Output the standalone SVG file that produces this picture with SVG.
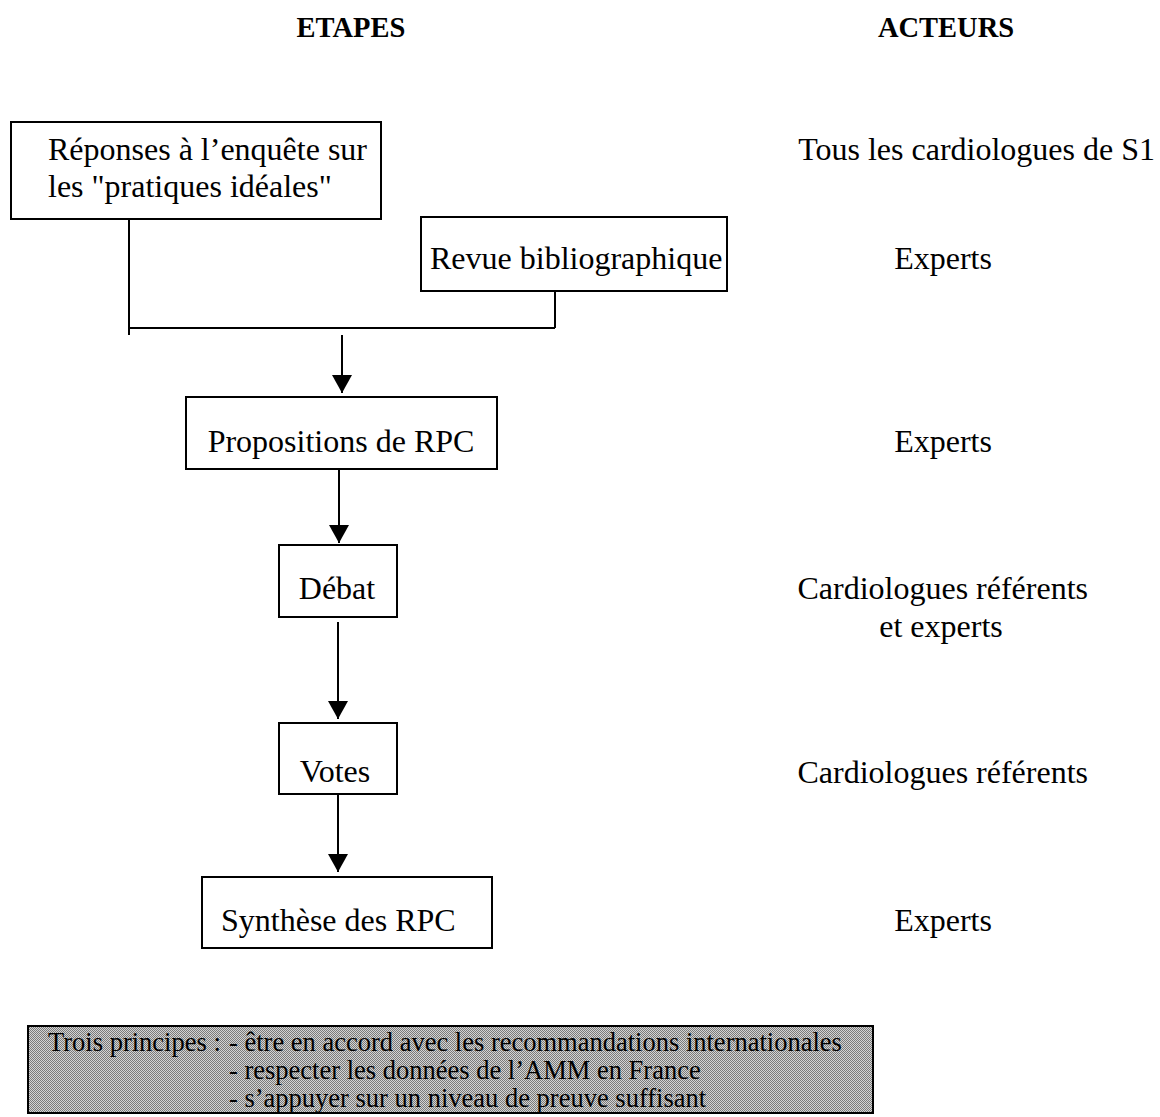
<svg xmlns="http://www.w3.org/2000/svg" width="1160" height="1117" viewBox="0 0 1160 1117">
<defs>
<style>
.t{font-family:"Liberation Serif","Times New Roman",serif;font-size:32px;fill:#000}
.h{font-family:"Liberation Serif","Times New Roman",serif;font-size:28.5px;font-weight:bold;fill:#000}
.s{font-family:"Liberation Serif","Times New Roman",serif;font-size:26.5px;fill:#000}
.box{fill:#fff;stroke:#000;stroke-width:2}
.ln{fill:none;stroke:#000;stroke-width:2}
</style>
<pattern id="dither" width="2" height="2" patternUnits="userSpaceOnUse">
<rect width="2" height="2" fill="#d4d4d4"/>
<rect x="0" y="0" width="1" height="1" fill="#7a7a7a"/>
<rect x="1" y="1" width="1" height="1" fill="#7a7a7a"/>
</pattern>
<marker id="arr" markerWidth="18" markerHeight="20" refX="18" refY="10" orient="auto" markerUnits="userSpaceOnUse">
<path d="M0,0 L18,10 L0,20 Z" fill="#000"/>
</marker>
</defs>
<rect width="1160" height="1117" fill="#fff"/>

<g id="headings">
<text class="h" x="351" y="37" text-anchor="middle">ETAPES</text>
<text class="h" x="946" y="37" text-anchor="middle">ACTEURS</text>
</g>

<g id="connectors">
<path class="ln" d="M129,219 V335"/>
<path class="ln" d="M555,291 V328"/>
<path class="ln" d="M129,328 H555"/>
<path class="ln" d="M342,335 V393" marker-end="url(#arr)"/>
<path class="ln" d="M339,470 V543" marker-end="url(#arr)"/>
<path class="ln" d="M338,622 V719" marker-end="url(#arr)"/>
<path class="ln" d="M338,795 V872" marker-end="url(#arr)"/>
</g>

<g id="n-reponses">
<rect class="box" x="11" y="122" width="370" height="97"/>
<text class="t" x="48" y="160">Réponses à l’enquête sur</text>
<text class="t" x="48" y="197">les "pratiques idéales"</text>
</g>
<g id="n-revue">
<rect class="box" x="421" y="217" width="306" height="74"/>
<text class="t" x="430" y="269">Revue bibliographique</text>
</g>
<g id="n-propositions">
<rect class="box" x="186" y="397" width="311" height="72"/>
<text class="t" x="341" y="452" text-anchor="middle">Propositions de RPC</text>
</g>
<g id="n-debat">
<rect class="box" x="279" y="545" width="118" height="72"/>
<text class="t" x="337" y="599" text-anchor="middle">Débat</text>
</g>
<g id="n-votes">
<rect class="box" x="279" y="723" width="118" height="71"/>
<text class="t" x="335" y="782" text-anchor="middle">Votes</text>
</g>
<g id="n-synthese">
<rect class="box" x="202" y="877" width="290" height="71"/>
<text class="t" x="221" y="931">Synthèse des RPC</text>
</g>

<g id="acteurs">
<text class="t" x="1155" y="160" text-anchor="end">Tous les cardiologues de S1</text>
<text class="t" x="943" y="269" text-anchor="middle">Experts</text>
<text class="t" x="943" y="452" text-anchor="middle">Experts</text>
<text class="t" x="1088" y="599" text-anchor="end">Cardiologues référents</text>
<text class="t" x="941" y="637" text-anchor="middle">et experts</text>
<text class="t" x="1088" y="783" text-anchor="end">Cardiologues référents</text>
<text class="t" x="943" y="931" text-anchor="middle">Experts</text>
</g>

<g id="n-principes">
<rect x="28" y="1026" width="845" height="87" fill="url(#dither)" stroke="#000" stroke-width="2"/>
<text class="s" x="48" y="1051">Trois principes :</text>
<text class="s" x="229" y="1051">- être en accord avec les recommandations internationales</text>
<text class="s" x="229" y="1079">- respecter les données de l’AMM en France</text>
<text class="s" x="229" y="1107">- s’appuyer sur un niveau de preuve suffisant</text>
</g>
</svg>
